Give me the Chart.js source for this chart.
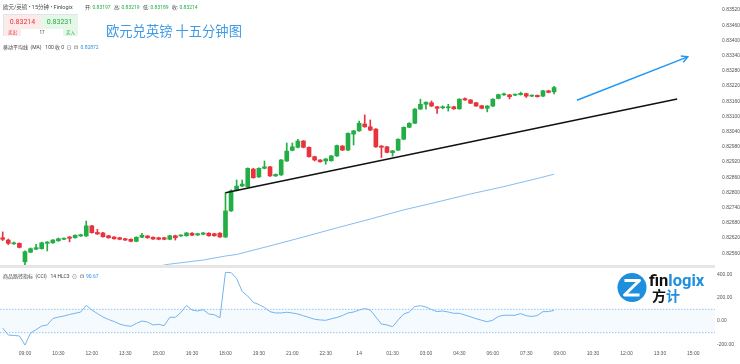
<!DOCTYPE html>
<html><head><meta charset="utf-8">
<script src="https://cdn.jsdelivr.net/npm/chart.js@4.4.0/dist/chart.umd.min.js"></script>
<style>
body{margin:0;width:740px;height:364px;overflow:hidden;background:#fff;font-family:Roboto,"Noto Sans CJK SC",sans-serif;position:relative}
canvas{position:absolute;left:0}
#c1{top:0}
#c2{top:268px}
.sep{position:absolute;left:0;top:265px;width:715px;height:3px;background:#e6e6e6}
.t{position:absolute;white-space:nowrap;font-size:5.5px;color:#444;line-height:8px}
.g{color:#22ad45}
.b{color:#2f8fe0}
.box{position:absolute;left:3px;top:14px;width:75px;height:22px;border:0.5px solid #e4e4e4;box-sizing:border-box;font-size:7px}
.box div{position:absolute;text-align:center}
.title{position:absolute;left:106px;top:22px;font-size:13.3px;color:#3f9ae6;font-family:"Noto Sans CJK SC",sans-serif;line-height:18px;white-space:nowrap}
</style></head><body>
<canvas id="c1" width="740" height="265"></canvas>
<div class="sep"></div>
<canvas id="c2" width="740" height="96"></canvas>

<div class="t" style="left:3px;top:3px">欧元/英镑 • 15分钟 • Finlogix</div>
<div class="t" style="left:85px;top:3px;font-size:5px">开: <span class="g">0.83197</span></div>
<div class="t" style="left:114px;top:3px;font-size:5px">高: <span class="g">0.83219</span></div>
<div class="t" style="left:143px;top:3px;font-size:5px">低: <span class="g">0.83189</span></div>
<div class="t" style="left:172px;top:3px;font-size:5px">收: <span class="g">0.83214</span></div>

<div class="box">
  <div style="left:0;top:0;width:37px;height:14px;background:#fdeaea;color:#e8333d;line-height:14px">0.83214</div>
  <div style="left:37px;top:0;width:37px;height:14px;background:#e5f7e7;color:#22ad45;line-height:14px">0.83231</div>
  <div style="left:0;top:14px;width:17px;height:7px;background:#fdeaea;color:#e8333d;font-size:4.5px;line-height:7px">卖出</div>
  <div style="left:17px;top:14px;width:42px;height:7px;background:#fff;color:#444;font-size:4.5px;line-height:7px">17</div>
  <div style="left:59px;top:14px;width:15px;height:7px;background:#e5f7e7;color:#22ad45;font-size:4.5px;line-height:7px">买入</div>
</div>
<div class="title">欧元兑英镑 十五分钟图</div>

<div class="t" style="left:3px;top:43px;font-size:5px">移动平均线 &nbsp;(MA) &nbsp;&nbsp;100 收 0 &nbsp;⊙ &nbsp;⊡ &nbsp;<span class="b">0.82872</span></div>
<div class="t" style="left:3px;top:272px;font-size:5px">商品路径指标 &nbsp;(CCI) &nbsp;&nbsp;14 HLC3 &nbsp;⊙ &nbsp;⊡ &nbsp;<span class="b">90.67</span></div>

<svg style="position:absolute;left:0;top:0" width="740" height="364">
  <circle cx="632" cy="287.5" r="14.5" fill="#1d8fde"/>
  <path d="M624.5 280.5 H639.5 L624.5 295 H639.5" stroke="#fff" stroke-width="3" fill="none" stroke-linejoin="round"/>
  <text x="649" y="286" font-family="Roboto,sans-serif" font-weight="bold" font-size="16.5"><tspan fill="#111">fin</tspan><tspan fill="#1d8fde">logix</tspan></text>
  <text x="652" y="301" font-family="'Noto Sans CJK SC',sans-serif" font-weight="bold" font-size="14"><tspan fill="#111">方</tspan><tspan fill="#1d8fde">计</tspan></text>
</svg>

<script>
// ---- candle data (15-min, from 08:00) ----
const opens=[0.82621,0.82612,0.82597,0.82599,0.82526,0.82564,0.82576,0.82578,0.82599,0.82601,
0.82609,0.82615,0.82624,0.82621,0.82628,0.82628,0.82668,0.82642,0.82640,0.82629,
0.82624,0.82621,0.82617,0.82615,0.82607,0.82623,0.82628,0.82623,0.82621,0.82621,
0.82615,0.82629,0.82628,0.82629,0.82639,0.82632,0.82635,0.82639,0.82637,0.82639,
0.82624,0.82727,0.82808,0.82825,0.82822,0.82892,0.82861,0.82895,0.82901,0.82865,
0.82869,0.82924,0.82966,0.82978,0.83003,0.82978,0.82941,0.82928,0.82924,0.82925,
0.82944,0.82983,0.82967,0.83030,0.83043,0.83070,0.83059,0.83050,0.82983,0.82980,
0.82957,0.82967,0.83010,0.83057,0.83073,0.83129,0.83148,0.83154,0.83138,0.83134,
0.83134,0.83138,0.83130,0.83170,0.83165,0.83154,0.83142,0.83132,0.83141,0.83171,
0.83185,0.83185,0.83184,0.83186,0.83190,0.83180,0.83183,0.83180,0.83201,0.83197];
const highs=[0.82644,0.82616,0.82604,0.82601,0.82569,0.82581,0.82595,0.82604,0.82606,0.82614,
0.82620,0.82621,0.82626,0.82633,0.82635,0.82687,0.82670,0.82654,0.82642,0.82631,
0.82626,0.82623,0.82619,0.82617,0.82625,0.82639,0.82630,0.82625,0.82623,0.82623,
0.82631,0.82631,0.82633,0.82642,0.82641,0.82639,0.82642,0.82641,0.82639,0.82641,
0.82799,0.82810,0.82849,0.82849,0.82897,0.82895,0.82897,0.82924,0.82903,0.82873,
0.82930,0.82995,0.82995,0.83010,0.83005,0.82980,0.82943,0.82930,0.82934,0.82946,
0.82987,0.82985,0.83035,0.83045,0.83082,0.83106,0.83086,0.83052,0.82985,0.82982,
0.82966,0.83012,0.83059,0.83075,0.83131,0.83168,0.83158,0.83161,0.83140,0.83142,
0.83148,0.83140,0.83170,0.83173,0.83167,0.83156,0.83144,0.83143,0.83170,0.83188,
0.83192,0.83187,0.83188,0.83196,0.83192,0.83185,0.83185,0.83203,0.83203,0.83219];
const lows=[0.82610,0.82594,0.82595,0.82581,0.82513,0.82562,0.82574,0.82576,0.82569,0.82599,
0.82607,0.82613,0.82605,0.82619,0.82626,0.82626,0.82639,0.82634,0.82623,0.82619,
0.82615,0.82613,0.82610,0.82605,0.82605,0.82621,0.82619,0.82614,0.82613,0.82613,
0.82613,0.82612,0.82626,0.82627,0.82629,0.82630,0.82633,0.82627,0.82627,0.82622,
0.82622,0.82725,0.82806,0.82823,0.82820,0.82856,0.82859,0.82893,0.82863,0.82863,
0.82867,0.82922,0.82964,0.82976,0.82976,0.82939,0.82924,0.82919,0.82911,0.82923,
0.82942,0.82965,0.82965,0.82987,0.83041,0.83057,0.83044,0.82978,0.82938,0.82956,
0.82943,0.82965,0.83008,0.83055,0.83071,0.83127,0.83129,0.83139,0.83112,0.83130,
0.83121,0.83128,0.83128,0.83163,0.83150,0.83139,0.83130,0.83118,0.83139,0.83169,
0.83183,0.83169,0.83182,0.83184,0.83175,0.83178,0.83176,0.83178,0.83193,0.83189];
const closes=[0.82615,0.82599,0.82601,0.82583,0.82566,0.82578,0.82582,0.82601,0.82604,0.82612,
0.82617,0.82619,0.82619,0.82631,0.82633,0.82668,0.82641,0.82636,0.82625,0.82621,
0.82617,0.82615,0.82612,0.82607,0.82623,0.82631,0.82621,0.82616,0.82615,0.82615,
0.82629,0.82621,0.82631,0.82640,0.82631,0.82637,0.82640,0.82629,0.82629,0.82624,
0.82727,0.82806,0.82825,0.82833,0.82895,0.82858,0.82895,0.82901,0.82865,0.82871,
0.82928,0.82963,0.82980,0.83003,0.82978,0.82941,0.82928,0.82921,0.82932,0.82944,
0.82985,0.82967,0.83033,0.83043,0.83073,0.83059,0.83046,0.82980,0.82978,0.82958,
0.82964,0.83010,0.83057,0.83073,0.83129,0.83148,0.83156,0.83141,0.83132,0.83138,
0.83138,0.83130,0.83168,0.83165,0.83152,0.83141,0.83132,0.83141,0.83168,0.83186,
0.83189,0.83178,0.83186,0.83191,0.83180,0.83183,0.83178,0.83201,0.83195,0.83214];

// MA(100) sampled at candle indices
const maIdx=[26,30,36,40,42,48,54,60,66,72,78,84,90,96,99];
const maVals=[0.82502,0.82517,0.82533,0.82549,0.82555,0.82589,0.82624,0.82660,0.82695,0.82731,0.82762,0.82794,0.82823,0.82855,0.82872];

// CCI(14) per candle
const cciVals=[-60,-120,-124,-128,-206,-103,-73,-43,-34,21,
34,43,56,66,77,134,94,64,34,13,
-4,-26,-39,-45,-21,0,-9,-34,-28,-40,
32,32,73,134,94,86,97,60,54,28,
417,415,364,253,214,160,141,116,80,69,
69,75,69,60,45,30,15,9,6,19,
30,47,69,77,94,107,94,34,-26,-34,
-49,9,60,77,124,131,120,98,80,86,
77,66,66,51,36,20,6,-6,7,39,
50,49,49,64,45,39,47,80,81,90.67];

const priceTicks=[0.82560,0.82620,0.82680,0.82740,0.82800,0.82860,0.82920,0.82980,0.83040,0.83100,0.83160,0.83220,0.83280,0.83340,0.83400,0.83460,0.83520];
const cciTicks=[-200,0,200,400];
const cciBands=[100,-100];
const tickIdx=[4,10,16,22,28,34,40,46,52,58,64,70,76,82,88,94,100,106,112,118,124];
const tickLabels=['09:00','10:30','12:00','13:30','15:00','16:30','18:00','19:30','21:00','22:30','14','01:30','03:00','04:30','06:00','07:30','09:00','10:30','12:00','13:30','15:00'];

// drawings (candle index, price)
const trendLine=[[40.0,0.82799],[121.1,0.83169]];
const arrowLine=[[103.1,0.83164],[123.0,0.83335]];

const UP='#22ad45', DN='#e8333d';
const col=closes.map((c,i)=>c>=opens[i]?UP:DN);
const X_MIN=-0.485, X_MAX=125.2;

const noPad=s=>{s.paddingTop=0;s.paddingBottom=0;s.paddingLeft=0;s.paddingRight=0;};

const arrowHead={id:'arrowHead',afterDatasetsDraw(chart){
  const x=chart.scales.x,y=chart.scales.y,ctx=chart.ctx;
  const x0=x.getPixelForValue(arrowLine[0][0]),y0=y.getPixelForValue(arrowLine[0][1]);
  const x1=x.getPixelForValue(arrowLine[1][0]),y1=y.getPixelForValue(arrowLine[1][1]);
  const a=Math.atan2(y1-y0,x1-x0),L=7;
  ctx.save();ctx.strokeStyle='#2196f3';ctx.lineWidth=1.5;ctx.beginPath();
  ctx.moveTo(x1-L*Math.cos(a-0.5),y1-L*Math.sin(a-0.5));ctx.lineTo(x1,y1);
  ctx.lineTo(x1-L*Math.cos(a+0.5),y1-L*Math.sin(a+0.5));ctx.stroke();ctx.restore();
}};

new Chart(document.getElementById('c1'),{
  type:'bar',
  data:{datasets:[
    {type:'line',data:trendLine.map(p=>({x:p[0],y:p[1]})),borderColor:'#111',borderWidth:1.5,pointRadius:0},
    {type:'line',data:arrowLine.map(p=>({x:p[0],y:p[1]})),borderColor:'#2196f3',borderWidth:1.5,pointRadius:0,clip:false},
    {type:'line',data:maIdx.map((v,i)=>({x:v,y:maVals[i]})),borderColor:'#86bdf0',borderWidth:1,pointRadius:0},
    {type:'bar',data:opens.map((o,i)=>({x:i,y:[o,closes[i]]})),backgroundColor:col,barThickness:4,grouped:false,minBarLength:1},
    {type:'bar',data:lows.map((l,i)=>({x:i,y:[l,highs[i]]})),backgroundColor:col,barThickness:1,grouped:false}
  ]},
  options:{responsive:false,animation:false,devicePixelRatio:1,layout:{padding:0},
    plugins:{legend:{display:false},tooltip:{enabled:false}},
    scales:{
      x:{type:'linear',display:false,min:X_MIN,max:X_MAX,offset:false},
      y:{position:'right',min:0.825135,max:0.835595,beginAtZero:false,
         grid:{display:false,drawTicks:false},border:{display:false},
         ticks:{padding:22,color:'#555',font:{size:5},callback:v=>v.toFixed(5)},
         afterBuildTicks:s=>{s.ticks=priceTicks.map(v=>({value:v}));},
         afterFit:s=>{s.width=40;noPad(s);}}
    }},
  plugins:[arrowHead]
});

const bandPlugin={id:'band',beforeDatasetsDraw(chart){
  const y=chart.scales.y,ctx=chart.ctx;
  const a=y.getPixelForValue(cciBands[0]),b=y.getPixelForValue(cciBands[1]);
  ctx.save();ctx.fillStyle='rgba(33,150,243,0.05)';ctx.fillRect(0,a,715,b-a);
  ctx.strokeStyle='#78b6ec';ctx.lineWidth=0.8;ctx.setLineDash([1.5,1.5]);
  ctx.beginPath();ctx.moveTo(0,a);ctx.lineTo(715,a);ctx.moveTo(0,b);ctx.lineTo(715,b);ctx.stroke();ctx.restore();
}};

new Chart(document.getElementById('c2'),{
  type:'line',
  data:{datasets:[{data:cciVals.map((v,i)=>({x:i,y:v})),borderColor:'#74b3ee',borderWidth:1,pointRadius:0}]},
  options:{responsive:false,animation:false,devicePixelRatio:1,layout:{padding:0},
    plugins:{legend:{display:false},tooltip:{enabled:false}},
    scales:{
      x:{type:'linear',min:X_MIN,max:X_MAX,grid:{display:false,drawTicks:false},border:{display:false},
         ticks:{padding:5,color:'#555',font:{size:5},autoSkip:false,maxRotation:0,
           callback:v=>{const k=tickIdx.indexOf(v);return k<0?'':tickLabels[k];}},
         afterBuildTicks:s=>{s.ticks=tickIdx.map(v=>({value:v}));},
         afterFit:s=>{s.height=18;noPad(s);}},
      y:{position:'right',min:-214,max:454,grid:{display:false,drawTicks:false},border:{display:false},
         ticks:{padding:17,color:'#555',font:{size:5},callback:v=>v.toFixed(2)},
         afterBuildTicks:s=>{s.ticks=cciTicks.map(v=>({value:v}));},
         afterFit:s=>{s.width=40;noPad(s);}}
    }},
  plugins:[bandPlugin]
});
</script>
</body></html>
